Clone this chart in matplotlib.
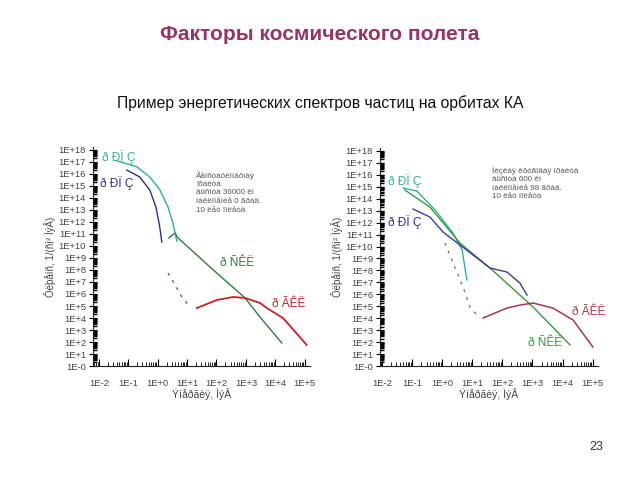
import numpy as np
import matplotlib
matplotlib.use('Agg')
import matplotlib.pyplot as plt
from matplotlib.ticker import FixedLocator, LogLocator, NullFormatter

plt.rcParams['font.family'] = ['Liberation Sans', 'DejaVu Sans']

# Tick labels
x_labels = ['1E-2', '1E-1', '1E+0', '1E+1', '1E+2', '1E+3', '1E+4', '1E+5']
y_labels = ['1E-0'] + ['1E+%d' % k for k in range(1, 19)]

# Left chart (log10 of energy, log10 of fluence)
l_rpz1_x = [-1.39, -0.71, -0.27, 0.07, 0.35, 0.52, 0.65]
l_rpz1_y = [17.1, 16.6, 15.75, 14.7, 13.25, 11.9, 10.4]
l_rpz2_x = [-1.05, -0.61, -0.27, -0.06, 0.07, 0.14]
l_rpz2_y = [16.33, 15.75, 14.67, 13.25, 11.58, 10.33]
l_skl_x = [0.38, 0.59, 0.69, 1.78, 2.97, 3.48, 4.22]
l_skl_y = [10.67, 11.08, 10.67, 8.25, 5.67, 4.08, 1.92]
l_gkl_dash_x = [0.35, 0.59, 0.82, 1.1]
l_gkl_dash_y = [7.75, 6.75, 5.75, 4.92]
l_gkl_x = [1.33, 2.01, 2.56, 2.97, 3.48, 3.71, 4.26, 5.07]
l_gkl_y = [4.83, 5.5, 5.75, 5.67, 5.25, 4.83, 4.0, 1.75]

# Right chart
r_rpz1_x = [-1.30, -0.84, -0.24, 0.36, 0.66, 0.82]
r_rpz1_y = [14.9, 14.64, 13.05, 11.13, 9.71, 7.2]
r_rpz2_x = [-0.97, -0.41, 0.03, 0.59, 1.59, 2.15, 2.58, 2.82]
r_rpz2_y = [13.14, 12.47, 11.21, 10.13, 8.2, 7.87, 6.95, 5.94]
r_skl_x = [-1.24, -0.41, 0.59, 1.59, 3.02, 4.25]
r_skl_y = [14.73, 13.3, 10.29, 8.2, 4.94, 1.76]
r_gkl_dash_x = [0.09, 0.36, 0.69, 0.92, 1.16]
r_gkl_dash_y = [10.29, 8.62, 6.61, 4.94, 4.27]
r_gkl_x = [1.36, 2.15, 2.58, 3.02, 3.68, 4.35, 5.01]
r_gkl_y = [4.02, 4.85, 5.1, 5.27, 4.85, 3.85, 1.59]

left_note = ['Ãåîñòàöèîíàðíàÿ', 'îðáèòà', 'âûñîòà 36000 êì',
             'íàêëîíåíèå 0 ãðàä.', '10 ëåò ïîëåòà']
right_note = ['Íèçêàÿ êðóãîâàÿ îðáèòà', 'âûñîòà 600 êì',
              'íàêëîíåíèå 98 ãðàä.', '10 ëåò ïîëåòà']

TEAL = '#2fae9c'
BLUE = '#2b2f8f'
GREEN = '#2e7d3a'

fig = plt.figure(figsize=(6.4, 4.8), dpi=100)
W, H = 640.0, 480.0


def p(v):
    return np.power(10.0, v)


def setup(ax, xmin, xmax):
    ax.set_xscale('log')
    ax.set_yscale('log')
    ax.set_xlim(p(xmin), p(xmax))
    ax.set_ylim(1, p(18.25))
    for s in ('top', 'right'):
        ax.spines[s].set_visible(False)
    for s in ('left', 'bottom'):
        ax.spines[s].set_linewidth(0.8)
        ax.spines[s].set_color('#222222')
    ax.xaxis.set_major_locator(FixedLocator(p(np.arange(-2, 6))))
    ax.set_xticklabels(x_labels)
    ax.yaxis.set_major_locator(FixedLocator(p(np.arange(0, 19))))
    ax.set_yticklabels(y_labels)
    ax.xaxis.set_minor_locator(LogLocator(base=10, subs=np.arange(2, 10), numticks=40))
    ax.yaxis.set_minor_locator(LogLocator(base=10, subs=np.arange(2, 10), numticks=40))
    ax.xaxis.set_minor_formatter(NullFormatter())
    ax.yaxis.set_minor_formatter(NullFormatter())
    ax.tick_params(axis='x', which='major', direction='in', length=5, width=0.8,
                   labelsize=6.8, labelcolor='#444444', pad=9)
    ax.tick_params(axis='x', which='minor', direction='in', length=3, width=0.6)
    ax.tick_params(axis='y', which='major', direction='inout', length=6, width=0.8,
                   labelsize=6.8, labelcolor='#444444', pad=2)
    ax.tick_params(axis='y', which='minor', direction='in', length=3, width=1.0)
    ax.patch.set_alpha(0)


# left axes
axl = fig.add_axes([93 / W, 1 - 366 / H, 217 / W, 219 / H])
setup(axl, -2.2, 5.18)
axl.plot(p(l_rpz1_x), p(l_rpz1_y), color=TEAL, lw=1)
axl.plot(p(l_rpz2_x), p(l_rpz2_y), color=BLUE, lw=1)
axl.plot(p(l_skl_x), p(l_skl_y), color=GREEN, lw=1)
axl.plot(p(l_gkl_dash_x), p(l_gkl_dash_y), color='#b04040', lw=1, ls=(0, (2, 4)))
axl.plot(p(l_gkl_x), p(l_gkl_y), color='#cc2020', lw=1.3)
axl.set_xlabel('Ýíåðãèÿ, ÌýÂ', fontsize=7.5, color='#444444', labelpad=0)
axl.set_ylabel('Ôëþåíñ, 1/(ñì² ÌýÂ)', fontsize=7, color='#444444', labelpad=2)

# right axes
axr = fig.add_axes([380 / W, 1 - 366 / H, 218 / W, 218 / H])
setup(axr, -2.07, 5.18)
axr.plot(p(r_rpz1_x), p(r_rpz1_y), color=TEAL, lw=1)
axr.plot(p(r_skl_x), p(r_skl_y), color='#3a9a3a', lw=1)
axr.plot(p(r_rpz2_x), p(r_rpz2_y), color='#3a3a9a', lw=1)
axr.plot(p(r_gkl_dash_x), p(r_gkl_dash_y), color='#8a7070', lw=1, ls=(0, (2, 4)))
axr.plot(p(r_gkl_x), p(r_gkl_y), color='#a03a4a', lw=1.1)
axr.set_xlabel('Ýíåðãèÿ, ÌýÂ', fontsize=7.5, color='#444444', labelpad=0)
axr.set_ylabel('Ôëþåíñ, 1/(ñì² ÌýÂ)', fontsize=7, color='#444444', labelpad=2)

# curve labels
fs = 8.5
fig.text(102 / W, 1 - 157 / H, 'ð ÐÏ Ç', color=TEAL, fontsize=fs, va='center')
fig.text(100 / W, 1 - 183 / H, 'ð ÐÏ Ç', color=BLUE, fontsize=fs, va='center')
fig.text(220 / W, 1 - 263 / H, 'ð ÑÊË', color=GREEN, fontsize=fs, va='center')
fig.text(272 / W, 1 - 304 / H, 'ð ÃÊË', color='#cc2020', fontsize=fs, va='center')
fig.text(388 / W, 1 - 181 / H, 'ð ÐÏ Ç', color=TEAL, fontsize=fs, va='center')
fig.text(388 / W, 1 - 222 / H, 'ð ÐÏ Ç', color='#2a2a9a', fontsize=fs, va='center')
fig.text(572 / W, 1 - 312 / H, 'ð ÃÊË', color='#a03a4a', fontsize=fs, va='center')
fig.text(528 / W, 1 - 343 / H, 'ð ÑÊË', color='#30a030', fontsize=fs, va='center')

# notes
for i, line in enumerate(left_note):
    fig.text(196 / W, 1 - (176 + 8.5 * i) / H, line, fontsize=5.8, color='#555555', va='center')
for i, line in enumerate(right_note):
    fig.text(492 / W, 1 - (171 + 8.5 * i) / H, line, fontsize=5.8, color='#555555', va='center')

# slide texts
fig.text(0.5, 1 - 35 / H, 'Факторы космического полета', ha='center', va='center',
         fontsize=15, weight='bold', color='#993366')
fig.text(0.5, 1 - 103 / H, 'Пример энергетических спектров частиц на орбитах КА',
         ha='center', va='center', fontsize=11.3, color='#111111')
fig.text(596 / W, 1 - 447 / H, '23', ha='center', va='center', fontsize=9, color='#333333')

fig.savefig('out.png', dpi=100)
